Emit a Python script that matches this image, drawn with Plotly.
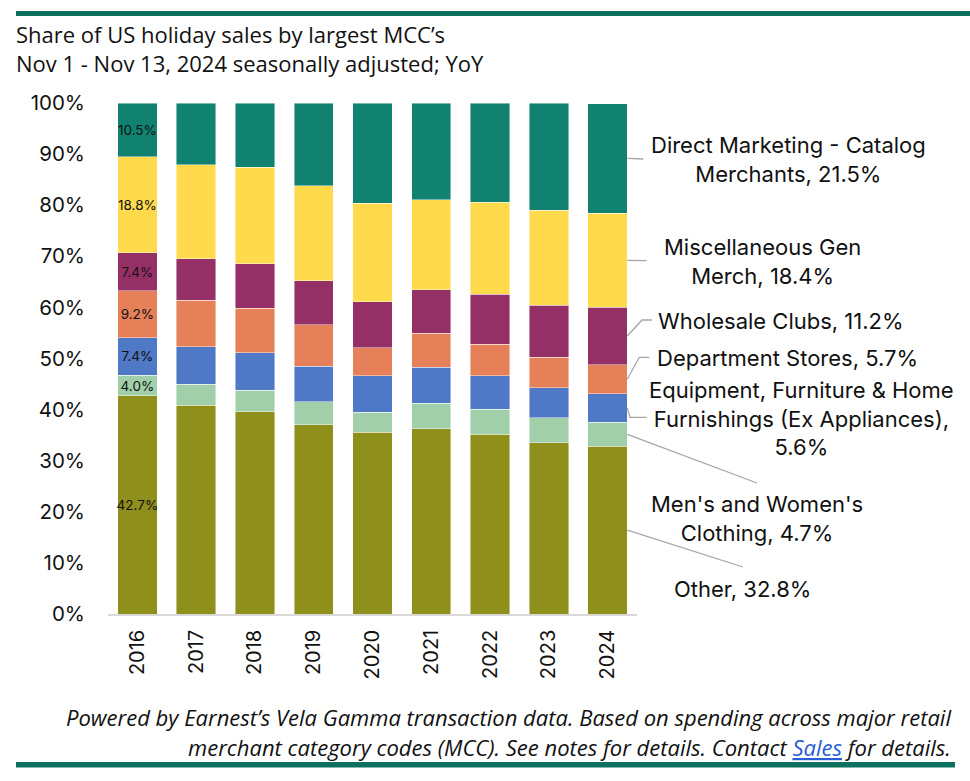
import plotly.graph_objects as go

years = ["2016", "2017", "2018", "2019", "2020", "2021", "2022", "2023", "2024"]

other = [42.7, 40.9, 39.6, 37.0, 35.6, 36.3, 35.2, 33.5, 32.8]
clothing = [4.0, 4.1, 4.2, 4.5, 3.9, 4.9, 4.9, 4.9, 4.7]
furniture = [7.4, 7.3, 7.3, 7.0, 7.1, 7.1, 6.5, 5.9, 5.6]
dept = [9.2, 9.1, 8.7, 8.1, 5.5, 6.6, 6.2, 5.9, 5.7]
wholesale = [7.4, 8.1, 8.7, 8.6, 9.0, 8.6, 9.8, 10.2, 11.2]
misc = [18.8, 18.4, 18.9, 18.6, 19.3, 17.6, 18.0, 18.6, 18.4]
direct = [10.5, 12.1, 12.6, 16.2, 19.6, 18.9, 19.4, 21.0, 21.5]

series_names = [
    "Other",
    "Men's and Women's<br>Clothing",
    "Equipment, Furniture & Home<br>Furnishings (Ex Appliances),<br>",
    "Department Stores",
    "Wholesale Clubs",
    "Miscellaneous Gen<br>Merch",
    "Direct Marketing - Catalog<br>Merchants",
]
series_values = [other, clothing, furniture, dept, wholesale, misc, direct]
colors = ["#8F8F1C", "#A0CFAA", "#4F78C6", "#E58058", "#953066", "#FFDA4D", "#11826F"]

tick_vals = [0, 10, 20, 30, 40, 50, 60, 70, 80, 90, 100]
tick_text = [f"{v}%" for v in tick_vals]

W, H = 970, 781
L, R, T, B = 108, 637, 103, 614
BARGAP = 0.33


def px(x):
    return (x - L) / (R - L)


def py(y):
    return (B - y) / (B - T)


fig = go.Figure()
for name, vals, col in zip(series_names, series_values, colors):
    texts = [f"{vals[0]:.1f}%"] + [""] * (len(vals) - 1)
    fig.add_trace(go.Bar(
        x=years, y=vals, name=name.replace("<br>", " "),
        marker=dict(color=col, line=dict(color="rgba(255,255,255,0.55)", width=0.8)),
        text=texts, textposition="inside", insidetextanchor="middle",
        textangle=0, constraintext="none",
        textfont=dict(family="Inter", size=13.5, color="#111111"),
        hoverinfo="skip",
    ))

# label layout (pixel positions of text centres and leader-line path points)
label_pos = [
    (742, 589, [(743, 567)]),
    (757, 518, [(757, 483)]),
    (801, 418, [(630, 417.3), (646.7, 417.3)]),
    (787, 358, [(639.3, 357.3), (649.3, 357.3)]),
    (781, 321, [(642, 320), (652, 320)]),
    (762, 261, [(646.7, 260.7)]),
    (788, 159, [(643.3, 159)]),
]

shapes = []
annotations = []
bar_edge_px = L + (len(years) - 1 + 0.5 + (1 - BARGAP) / 2) * (R - L) / len(years)
cum = 0.0
for name, vals, (tx, ty, pts) in zip(series_names, series_values, label_pos):
    v = vals[-1]
    mid = cum + v / 2
    cum += v
    start_y = B - mid / 100 * (B - T)
    path = f"M {px(bar_edge_px)} {py(start_y)}"
    for (qx, qy) in pts:
        path += f" L {px(qx)} {py(qy)}"
    shapes.append(dict(type="path", path=path, xref="paper", yref="paper",
                       line=dict(color="#A6A6A6", width=1.3)))
    sep = "" if name.endswith("<br>") else ", "
    annotations.append(dict(
        x=px(tx), y=py(ty), xref="paper", yref="paper",
        text=f"{name}{sep}{v:.1f}%", showarrow=False,
        xanchor="center", yanchor="middle", align="center",
        font=dict(family="Inter", size=22, color="#111111"),
    ))

# decorative rules
shapes.append(dict(type="rect", xref="paper", yref="paper",
                   x0=px(16), x1=px(970), y0=py(11), y1=py(16),
                   fillcolor="#0B705E", line=dict(width=0)))
shapes.append(dict(type="rect", xref="paper", yref="paper",
                   x0=px(16), x1=px(955), y0=py(762), y1=py(767.5),
                   fillcolor="#0B705E", line=dict(width=0)))

# title
annotations.append(dict(x=px(14), y=py(34), xref="paper", yref="paper",
                        text="Share of US holiday sales by largest MCC’s",
                        showarrow=False, xanchor="left", yanchor="middle",
                        font=dict(family="Open Sans", size=22, color="#111111")))
annotations.append(dict(x=px(14), y=py(63), xref="paper", yref="paper",
                        text="Nov 1 - Nov 13, 2024 seasonally adjusted; YoY",
                        showarrow=False, xanchor="left", yanchor="middle",
                        font=dict(family="Open Sans", size=22, color="#111111")))
# footer
annotations.append(dict(x=px(953), y=py(717), xref="paper", yref="paper",
                        text="<i>Powered by Earnest’s Vela Gamma transaction data. Based on spending across major retail</i>",
                        showarrow=False, xanchor="right", yanchor="middle",
                        font=dict(family="Open Sans", size=22, color="#111111")))
annotations.append(dict(x=px(953), y=py(747), xref="paper", yref="paper",
                        text="<i>merchant category codes (MCC). See notes for details. Contact "
                             "<span style='color:#2A5BD7'><u>Sales</u></span> for details.</i>",
                        showarrow=False, xanchor="right", yanchor="middle",
                        font=dict(family="Open Sans", size=22, color="#111111")))

fig.update_layout(
    barmode="stack", bargap=BARGAP,
    width=W, height=H,
    margin=dict(l=L, r=W - R, t=T, b=H - B, pad=0),
    paper_bgcolor="white", plot_bgcolor="white",
    showlegend=False,
    shapes=shapes, annotations=annotations,
    xaxis=dict(type="category", tickangle=-90, showgrid=False, zeroline=False,
               showline=True, linecolor="#D9D9D9", linewidth=1.5, ticks="",
               ticklabelstandoff=6,
               tickfont=dict(family="Inter", size=20, color="#111111")),
    yaxis=dict(range=[0, 100], tickvals=tick_vals, ticktext=tick_text,
               showgrid=False, zeroline=False, showline=False, ticks="",
               ticklabelstandoff=22,
               tickfont=dict(family="Inter", size=20.5, color="#111111")),
)

fig.write_html("out.html")
